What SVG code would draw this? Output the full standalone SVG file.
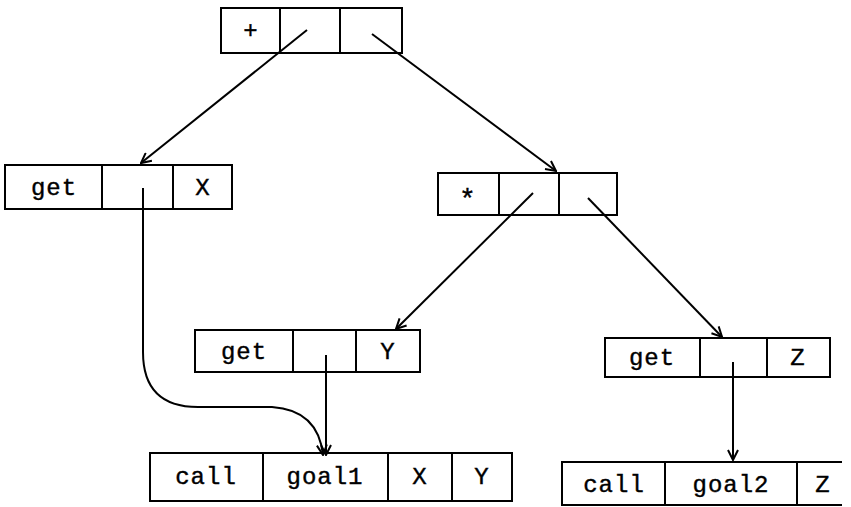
<svg xmlns="http://www.w3.org/2000/svg" width="851" height="507" viewBox="0 0 851 507">
<defs>
<style>
.box{fill:none;stroke:#000;stroke-width:2}
.t{font-family:"Liberation Mono","DejaVu Sans Mono",monospace;font-size:24px;fill:#000;stroke:#000;stroke-width:0.4;text-anchor:middle;letter-spacing:1px}
.c{fill:none;stroke:#000;stroke-width:2}
</style>
<marker id="ah" viewBox="0 0 12 12" refX="11" refY="6" markerWidth="12" markerHeight="12" markerUnits="userSpaceOnUse" orient="auto">
<path d="M1,1 L11,6 L1,11" fill="none" stroke="#000" stroke-width="2"/>
</marker>
</defs>
<rect width="851" height="507" fill="#fff"/>
<g id="connectors">
<line class="c" x1="307" y1="30" x2="141" y2="163" marker-end="url(#ah)"/>
<line class="c" x1="372" y1="34" x2="556" y2="171" marker-end="url(#ah)"/>
<path class="c" d="M143,188 L143,352 Q143,407 198,407 L272,407 Q318,410 323,455" marker-end="url(#ah)"/>
<line class="c" x1="326" y1="355" x2="326" y2="455" marker-end="url(#ah)"/>
<line class="c" x1="533" y1="193" x2="396" y2="329" marker-end="url(#ah)"/>
<line class="c" x1="588" y1="198" x2="722" y2="337" marker-end="url(#ah)"/>
<line class="c" x1="733" y1="362" x2="733" y2="460" marker-end="url(#ah)"/>
</g>
<g id="plus">
<rect class="box" x="221" y="8" width="181" height="45"/>
<line class="box" x1="280" y1="8" x2="280" y2="53"/>
<line class="box" x1="340" y1="8" x2="340" y2="53"/>
<text class="t" x="251" y="38">+</text>
</g>
<g id="getX">
<rect class="box" x="5" y="165" width="227" height="44"/>
<line class="box" x1="102" y1="165" x2="102" y2="209"/>
<line class="box" x1="173" y1="165" x2="173" y2="209"/>
<text class="t" x="54" y="195">get</text>
<text class="t" x="203" y="195">X</text>
</g>
<g id="star">
<rect class="box" x="438" y="173" width="179" height="42"/>
<line class="box" x1="499" y1="173" x2="499" y2="215"/>
<line class="box" x1="559" y1="173" x2="559" y2="215"/>
<text class="t" x="468" y="208" style="font-size:28px">*</text>
</g>
<g id="getY">
<rect class="box" x="195" y="330" width="225" height="42"/>
<line class="box" x1="293" y1="330" x2="293" y2="372"/>
<line class="box" x1="356" y1="330" x2="356" y2="372"/>
<text class="t" x="244" y="359">get</text>
<text class="t" x="388" y="359">Y</text>
</g>
<g id="getZ">
<rect class="box" x="605" y="338" width="225" height="39"/>
<line class="box" x1="700" y1="338" x2="700" y2="377"/>
<line class="box" x1="767" y1="338" x2="767" y2="377"/>
<text class="t" x="652" y="365">get</text>
<text class="t" x="798" y="365">Z</text>
</g>
<g id="call1">
<rect class="box" x="150" y="453" width="362" height="48"/>
<line class="box" x1="263" y1="453" x2="263" y2="501"/>
<line class="box" x1="388" y1="453" x2="388" y2="501"/>
<line class="box" x1="452" y1="453" x2="452" y2="501"/>
<text class="t" x="206" y="484">call</text>
<text class="t" x="325" y="484">goal1</text>
<text class="t" x="420" y="484">X</text>
<text class="t" x="482" y="484">Y</text>
</g>
<g id="call2">
<path class="box" d="M842,462 L562,462 L562,505 L842,505"/>
<line class="box" x1="665" y1="462" x2="665" y2="505"/>
<line class="box" x1="797" y1="462" x2="797" y2="505"/>
<text class="t" x="614" y="492">call</text>
<text class="t" x="731" y="492">goal2</text>
<text class="t" x="823" y="492">Z</text>
</g>
</svg>
